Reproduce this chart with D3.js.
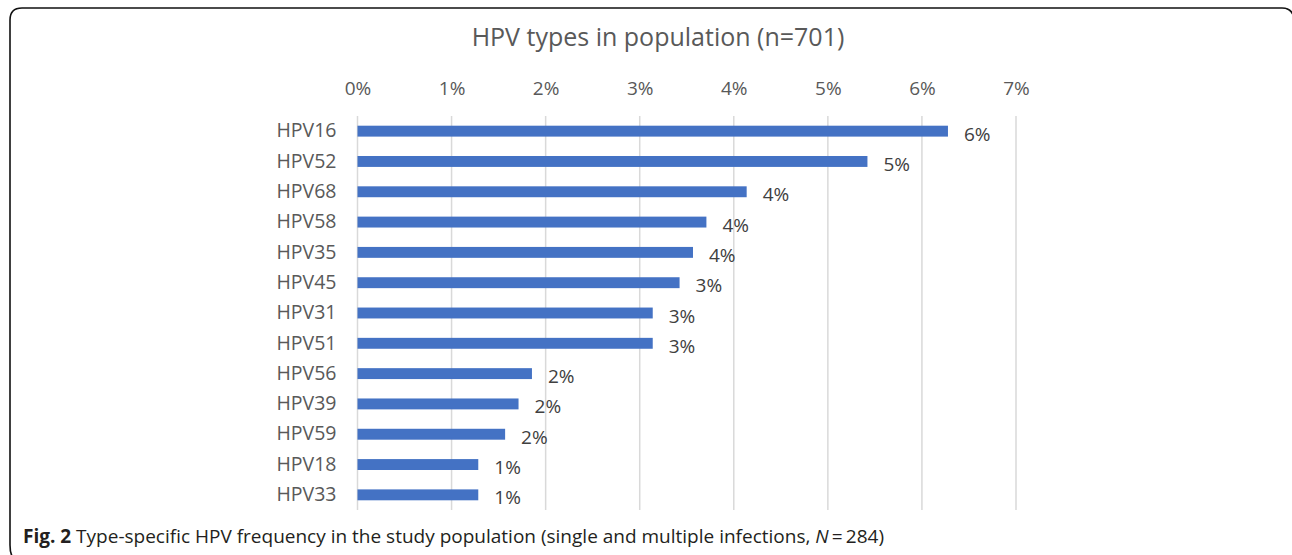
<!DOCTYPE html>
<html>
<head>
<meta charset="utf-8">
<script src="https://cdn.jsdelivr.net/npm/d3@7"></script>
<style>
  body { margin: 0; background: #fff; }
  svg { display: block; }
</style>
</head>
<body>
<div id="vis"></div>
<script>
// HPV type counts out of n=701
var types = ["HPV16", "HPV52", "HPV68", "HPV58", "HPV35", "HPV45", "HPV31", "HPV51", "HPV56", "HPV39", "HPV59", "HPV18", "HPV33"];
var counts = [44, 38, 29, 26, 25, 24, 22, 22, 13, 12, 11, 9, 9];
var total = 701;
var ticks = [0, 0.01, 0.02, 0.03, 0.04, 0.05, 0.06, 0.07];

var width = 1292, height = 555;
var pct = d3.format(".0%");
var labelFont = "Open Sans, sans-serif";

var rows = types.map(function (t, i) {
    return { type: t, value: counts[i] / total };
});

var svg = d3.select("#vis").append("svg").attr("width", width).attr("height", height);

// frame
svg.append("path")
    .attr("d", "M12,556 Q10,552 10,545 L10,20 Q10,8 22,8 L1282,8 Q1292,8 1294,18")
    .attr("fill", "none")
    .attr("stroke", "#111")
    .attr("stroke-width", 1.6);

var x = d3.scaleLinear().domain([0, 0.07]).range([357.5, 1016]);
var y = d3.scaleBand().domain(types).range([116, 510]).paddingInner(0.64).paddingOuter(0.32);

// title
svg.append("text")
    .attr("x", 658).attr("y", 46)
    .attr("text-anchor", "middle")
    .attr("font-family", labelFont)
    .attr("font-size", 25)
    .attr("fill", "#595959")
    .text("HPV types in population (n=701)");

// gridlines
svg.append("g")
    .selectAll("line")
    .data(ticks)
    .enter().append("line")
    .attr("x1", d => x(d)).attr("x2", d => x(d))
    .attr("y1", 116).attr("y2", 510)
    .attr("stroke", "#d9d9d9")
    .attr("stroke-width", 1.5);

// top axis
var xAxis = d3.axisTop(x).tickValues(ticks).tickFormat(pct).tickSize(0).tickPadding(0);
var gx = svg.append("g").attr("transform", "translate(0,95)").call(xAxis);
gx.select(".domain").remove();
gx.selectAll("text")
    .attr("font-family", labelFont)
    .attr("font-size", 19)
    .attr("fill", "#595959");

// category axis
var yAxis = d3.axisLeft(y).tickSize(0).tickPadding(21);
var gy = svg.append("g").attr("transform", "translate(357.5,0)").call(yAxis);
gy.select(".domain").remove();
gy.selectAll("text")
    .attr("font-family", labelFont)
    .attr("font-size", 19.5)
    .attr("fill", "#595959");

// bars
svg.append("g")
    .selectAll("rect")
    .data(rows)
    .enter().append("rect")
    .attr("x", x(0))
    .attr("y", d => y(d.type))
    .attr("width", d => x(d.value) - x(0))
    .attr("height", y.bandwidth())
    .attr("fill", "#4472c4");

// value labels
svg.append("g")
    .selectAll("text")
    .data(rows)
    .enter().append("text")
    .attr("x", d => x(d.value) + 16)
    .attr("y", d => y(d.type) + y.bandwidth() / 2)
    .attr("dy", "0.5em")
    .attr("font-family", labelFont)
    .attr("font-size", 19)
    .attr("fill", "#404040")
    .text(d => pct(d.value));

// caption
var cap = svg.append("text")
    .attr("x", 23).attr("y", 543)
    .attr("font-family", labelFont)
    .attr("font-size", 19)
    .attr("fill", "#231f20");
cap.append("tspan").attr("font-weight", "bold").text("Fig. 2");
cap.append("tspan").text(" Type-specific HPV frequency in the study population (single and multiple infections, ");
cap.append("tspan").attr("font-style", "italic").text("N");
cap.append("tspan").text("\u2009=\u2009284)");
</script>
</body>
</html>
